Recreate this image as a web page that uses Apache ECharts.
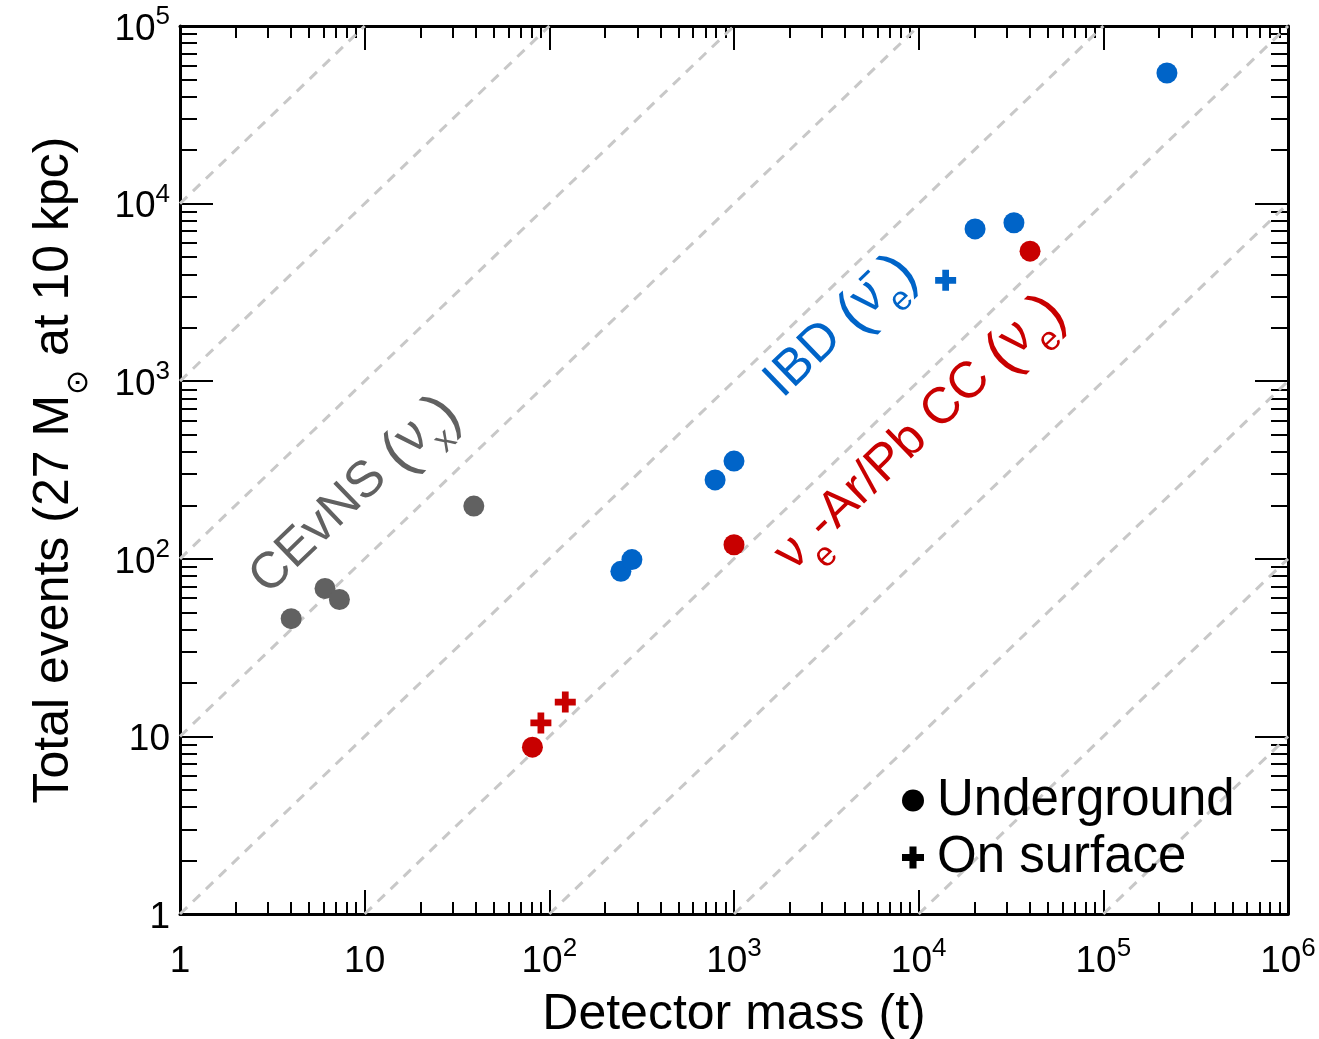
<!DOCTYPE html>
<html>
<head>
<meta charset="utf-8">
<script src="https://cdn.jsdelivr.net/npm/echarts@6/dist/echarts.min.js"></script>
<style>
html, body { margin: 0; padding: 0; background: #fff; }
#main { width: 1319px; height: 1039px; }
</style>
</head>
<body>
<div id="main"></div>
<script>
// axis decades (log10) and minor steps
var xDecades = [0, 1, 2, 3, 4, 5, 6];
var yDecades = [0, 1, 2, 3, 4, 5];
var minorSteps = [2, 3, 4, 5, 6, 7, 8, 9];
// dashed guide lines: events = 10^k * mass
var diagonals = [-5, -4, -3, -2, -1, 0, 1, 2, 3, 4];

// detector mass (t) / total events
var cevnsMass = [4.0, 6.1, 7.3, 39];
var cevnsEvents = [46, 68, 59, 198];
var ibdMass = [244, 280, 790, 1000, 20200, 32800, 221000];
var ibdEvents = [85, 99, 278, 355, 7200, 7800, 54400];
var ibdSurfMass = [14000];
var ibdSurfEvents = [3700];
var ccMass = [81, 1000, 40100];
var ccEvents = [8.7, 120, 5400];
var ccSurfMass = [90, 122];
var ccSurfEvents = [11.9, 15.6];

var FONT = '"Liberation Sans", Arial, Helvetica, sans-serif';
var GRAY = '#616161', BLUE = '#0064c8', RED = '#c80000';
var PLUS = 'path://M34,0H66V34H100V66H66V100H34V66H0V34H34Z';

function pts(m, e) {
    return m.map(function (v, i) { return [Math.log10(v), Math.log10(e[i])]; });
}
function minorOf(dec) {
    var out = [];
    for (var i = 0; i < dec.length - 1; i++) {
        minorSteps.forEach(function (s) { out.push(dec[i] + Math.log10(s)); });
    }
    return out;
}
function lbl(v) {
    var n = Math.round(v);
    if (n === 0) return '{b|1}';
    if (n === 1) return '{b|10}';
    return '{b|10}{s|' + n + '}';
}
var labelRich = {
    b: { fontSize: 37, lineHeight: 44, verticalAlign: 'bottom', fontFamily: FONT, color: '#000' },
    s: { fontSize: 26, lineHeight: 20, verticalAlign: 'top', fontFamily: FONT, color: '#000' }
};

function axis(pos, dec, ticks, len, main, extra) {
    var a = {
        type: 'value', position: pos, min: dec[0], max: dec[dec.length - 1], interval: 1,
        axisLine: { show: main, onZero: false, lineStyle: { color: '#000', width: 3 } },
        axisTick: { show: true, inside: true, length: len, customValues: ticks,
            lineStyle: { color: '#000', width: 2 } },
        axisLabel: { show: false },
        splitLine: { show: false }
    };
    return Object.assign(a, extra || {});
}

var xAxes = [
    axis('bottom', xDecades, xDecades, 24, true, {
        axisLabel: { show: true, customValues: xDecades, formatter: lbl, rich: labelRich, margin: 22 },
        name: 'Detector mass (t)', nameLocation: 'middle', nameGap: 76,
        nameTextStyle: { fontFamily: FONT, fontSize: 50, color: '#000' }
    }),
    axis('bottom', xDecades, minorOf(xDecades), 12, false),
    axis('top', xDecades, xDecades, 24, true),
    axis('top', xDecades, minorOf(xDecades), 12, false)
];
var yAxes = [
    axis('left', yDecades, yDecades, 33, true, {
        axisLabel: { show: true, customValues: yDecades, formatter: lbl, rich: labelRich, margin: 10, align: 'right' },
        name: 'Total events (27 M{sub|⊙} at 10 kpc)', nameLocation: 'middle', nameGap: 86, nameRotate: 90,
        nameTextStyle: { fontFamily: FONT, fontSize: 50, color: '#000',
            rich: {
                sub: { fontFamily: FONT, fontSize: 30, color: '#000', lineHeight: 80, verticalAlign: 'bottom' }
            } }
    }),
    axis('left', yDecades, minorOf(yDecades), 17, false),
    axis('right', yDecades, yDecades, 33, true),
    axis('right', yDecades, minorOf(yDecades), 17, false)
];

var series = diagonals.map(function (k) {
    var x0 = Math.max(0, -k), x1 = Math.min(6, 5 - k);
    return {
        type: 'line', silent: true, symbol: 'none', z: 1,
        data: [[x0, x0 + k], [x1, x1 + k]],
        lineStyle: { color: '#c8c8c8', width: 3, type: [10, 8] }
    };
});
function scatter(name, data, color, symbol) {
    return {
        name: name, type: 'scatter', z: 5, data: data,
        symbol: symbol, symbolSize: 21,
        itemStyle: { color: color, opacity: 1 }
    };
}
series.push(
    scatter('Underground', pts(cevnsMass, cevnsEvents), GRAY, 'circle'),
    scatter('Underground', pts(ibdMass, ibdEvents), BLUE, 'circle'),
    scatter('Underground', pts(ccMass, ccEvents), RED, 'circle'),
    scatter('On surface', pts(ibdSurfMass, ibdSurfEvents), BLUE, PLUS),
    scatter('On surface', pts(ccSurfMass, ccSurfEvents), RED, PLUS)
);

var chart = echarts.init(document.getElementById('main'));
chart.setOption({
    animation: false,
    backgroundColor: '#fff',
    grid: { left: 180, right: 31, top: 26, bottom: 125, containLabel: false, outerBoundsMode: 'none' },
    xAxis: xAxes,
    yAxis: yAxes,
    legend: {
        left: 897, top: 767, orient: 'vertical', itemGap: 0,
        itemWidth: 22, itemHeight: 22, selectedMode: false,
        textStyle: { fontFamily: FONT, fontSize: 51, color: '#000', lineHeight: 57, padding: [0, 0, 0, 8] },
        data: [
            { name: 'Underground', icon: 'circle', itemStyle: { color: '#000' } },
            { name: 'On surface', icon: PLUS, itemStyle: { color: '#000' } }
        ]
    },
    series: series
});

// rotated process labels, anchored in data (log10) coordinates
function tag(color) {
    return {
        t: { fontFamily: FONT, fontSize: 51, fill: color, lineHeight: 52, verticalAlign: 'top' },
        p: { fontFamily: FONT, fontSize: 60, fill: color, lineHeight: 60, verticalAlign: 'top' },
        u: { fontFamily: FONT, fontSize: 34, fill: color, lineHeight: 68, verticalAlign: 'bottom' }
    };
}
var tags = [
    { at: [0.97, 2.33], color: GRAY, text: '{t|CEvNS }{p|(}{t|ν}{u|x}{p|)}' },
    { at: [3.6, 3.28], color: BLUE, text: '{t|IBD }{p|(}{t|ν\u0304}{u|e}{p|)}' },
    { at: [4.03, 2.68], color: RED, text: '{t|ν}{u|e}{t|-Ar/Pb CC }{p|(}{t|ν}{u|e}{p|)}' }
];
var o = chart.convertToPixel({ xAxisIndex: 0, yAxisIndex: 0 }, [0, 0]);
var d = chart.convertToPixel({ xAxisIndex: 0, yAxisIndex: 0 }, [1, 1]);
var rot = Math.atan2(o[1] - d[1], d[0] - o[0]);
chart.setOption({
    graphic: tags.map(function (g) {
        var p = chart.convertToPixel({ xAxisIndex: 0, yAxisIndex: 0 }, g.at);
        return {
            type: 'text', x: p[0], y: p[1], rotation: rot, z: 10, silent: true,
            style: { text: g.text, rich: tag(g.color), fill: g.color, align: 'center', verticalAlign: 'middle' }
        };
    })
});
</script>
</body>
</html>
